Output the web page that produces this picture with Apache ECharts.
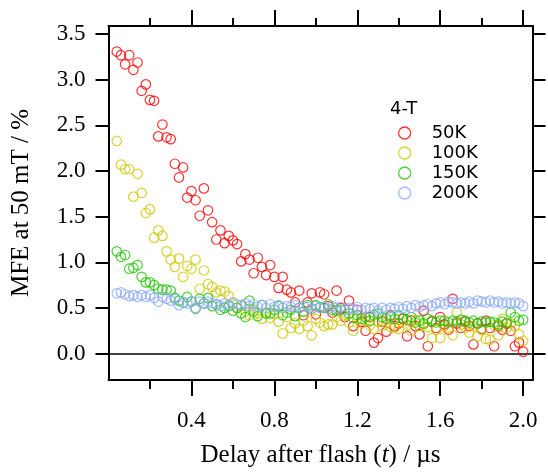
<!DOCTYPE html>
<html>
<head>
<meta charset="utf-8">
<script src="https://cdn.jsdelivr.net/npm/echarts@6/dist/echarts.min.js"></script>
<style>html,body{margin:0;padding:0;background:#fff;}#chart{width:548px;height:473px;}</style>
</head>
<body>
<div id="chart"></div>
<script>
// Delay after flash (µs)
const delay = [
  0.04,0.06,0.08,0.10,0.12,0.14,0.16,0.18,0.20,0.22,
  0.24,0.26,0.28,0.30,0.32,0.34,0.36,0.38,0.40,0.42,
  0.44,0.46,0.48,0.50,0.52,0.54,0.56,0.58,0.60,0.62,
  0.64,0.66,0.68,0.70,0.72,0.74,0.76,0.78,0.80,0.82,
  0.84,0.86,0.88,0.90,0.92,0.94,0.96,0.98,1.00,1.02,
  1.04,1.06,1.08,1.10,1.12,1.14,1.16,1.18,1.20,1.22,
  1.24,1.26,1.28,1.30,1.32,1.34,1.36,1.38,1.40,1.42,
  1.44,1.46,1.48,1.50,1.52,1.54,1.56,1.58,1.60,1.62,
  1.64,1.66,1.68,1.70,1.72,1.74,1.76,1.78,1.80,1.82,
  1.84,1.86,1.88,1.90,1.92,1.94,1.96,1.98,2.00
];
const mfe50K = [
  3.31,3.27,3.17,3.27,3.11,3.19,2.88,2.95,2.78,2.77,
  2.38,2.51,2.37,2.35,2.08,1.93,2.04,1.71,1.78,1.68,
  1.51,1.81,1.57,1.44,1.25,1.35,1.21,1.29,1.24,1.20,
  1.01,1.09,1.03,0.88,1.05,0.95,0.86,0.97,0.84,0.72,
  0.84,0.70,0.67,0.56,0.69,0.42,0.56,0.66,0.43,0.67,
  0.65,0.52,0.45,0.69,0.50,0.40,0.58,0.30,0.48,0.35,
  0.25,0.40,0.12,0.17,0.35,0.24,0.42,0.30,0.33,0.38,
  0.19,0.36,0.30,0.21,0.47,0.08,0.35,0.28,0.40,0.32,
  0.26,0.60,0.33,0.28,0.35,0.30,0.10,0.33,0.27,0.36,
  0.28,0.08,0.30,0.26,0.33,0.25,0.08,0.12,0.02
];
const mfe100K = [
  2.33,2.07,2.02,2.02,1.72,1.97,1.76,1.54,1.58,1.27,
  1.35,1.29,1.12,1.03,0.95,1.04,0.84,0.96,0.93,1.03,
  0.71,0.91,0.76,0.73,0.67,0.69,0.68,0.63,0.55,0.50,
  0.52,0.46,0.42,0.48,0.44,0.38,0.45,0.39,0.43,0.35,
  0.22,0.40,0.28,0.33,0.27,0.36,0.30,0.20,0.38,0.34,
  0.30,0.32,0.32,0.40,0.36,0.42,0.34,0.25,0.38,0.33,
  0.36,0.31,0.27,0.35,0.30,0.33,0.29,0.28,0.27,0.34,
  0.31,0.25,0.37,0.30,0.32,0.29,0.17,0.26,0.17,0.30,
  0.28,0.20,0.45,0.32,0.28,0.23,0.30,0.19,0.26,0.16,
  0.15,0.31,0.20,0.38,0.28,0.33,0.30,0.21,0.14
];
const mfe150K = [
  1.12,1.06,1.08,0.93,0.94,0.97,0.84,0.78,0.78,0.75,
  0.71,0.70,0.70,0.69,0.61,0.58,0.56,0.62,0.57,0.49,
  0.60,0.55,0.61,0.52,0.54,0.48,0.50,0.52,0.47,0.50,
  0.44,0.40,0.58,0.46,0.41,0.53,0.44,0.44,0.48,0.52,
  0.42,0.45,0.48,0.41,0.50,0.46,0.53,0.49,0.53,0.51,
  0.50,0.54,0.48,0.47,0.48,0.48,0.44,0.39,0.42,0.38,
  0.40,0.36,0.42,0.44,0.40,0.38,0.41,0.38,0.42,0.39,
  0.37,0.40,0.34,0.36,0.33,0.38,0.36,0.34,0.36,0.36,
  0.34,0.36,0.35,0.37,0.36,0.34,0.36,0.33,0.35,0.34,
  0.35,0.34,0.32,0.35,0.33,0.45,0.40,0.36,0.37
];
const mfe200K = [
  0.66,0.67,0.65,0.63,0.64,0.62,0.64,0.62,0.64,0.61,
  0.57,0.62,0.60,0.58,0.60,0.53,0.56,0.55,0.57,0.50,
  0.57,0.55,0.57,0.55,0.54,0.52,0.55,0.53,0.56,0.54,
  0.53,0.55,0.52,0.54,0.51,0.53,0.50,0.54,0.51,0.53,
  0.50,0.52,0.51,0.53,0.50,0.52,0.51,0.49,0.52,0.50,
  0.51,0.49,0.52,0.50,0.51,0.48,0.50,0.49,0.51,0.48,
  0.50,0.49,0.50,0.47,0.50,0.48,0.50,0.49,0.51,0.49,
  0.52,0.50,0.53,0.51,0.53,0.54,0.52,0.55,0.56,0.54,
  0.57,0.56,0.55,0.56,0.55,0.57,0.55,0.58,0.57,0.56,
  0.58,0.56,0.57,0.55,0.56,0.55,0.56,0.55,0.52
];
const seriesNames = ['50K', '100K', '150K', '200K'];
const seriesValues = [mfe50K, mfe100K, mfe150K, mfe200K];
const seriesColors = ['#ff0000', '#cfc800', '#1ec800', '#8caaff'];
const xMajorTicks = [0.4, 0.8, 1.2, 1.6, 2.0];
const xMinorTicks = [0.2, 0.6, 1.0, 1.4, 1.8];
const yTicks = [0, 0.5, 1.0, 1.5, 2.0, 2.5, 3.0, 3.5];
const legendTitle = '4-T';

const X_MIN = 0, X_MAX = 2.045, Y_MIN = -0.29, Y_MAX = 3.59;
const serif = 'Liberation Serif';
const black = '#000';

function xAxisDef(pos, ticks, len, showLine, labels) {
  const ax = {
    type: 'value', position: pos, min: X_MIN, max: X_MAX,
    axisLine: { show: showLine, onZero: false, lineStyle: { color: black, width: 2 } },
    axisTick: { show: true, inside: false, length: len, customValues: ticks, lineStyle: { color: black, width: 2 } },
    axisLabel: { show: false },
    splitLine: { show: false }
  };
  if (labels) {
    ax.axisLabel = {
      show: true, customValues: ticks, margin: 29,
      formatter: v => Number(v).toFixed(1),
      fontFamily: serif, fontSize: 23, color: black
    };
    ax.name = '{n|Delay after flash (}{i|t}{n|) / µs}';
    ax.nameLocation = 'middle';
    ax.nameGap = 63;
    ax.nameTextStyle = {
      rich: {
        n: { fontFamily: serif, fontSize: 25, color: black },
        i: { fontFamily: serif, fontSize: 25, color: black, fontStyle: 'italic' }
      }
    };
  }
  return ax;
}

function yAxisDef(pos, labels) {
  const ax = {
    type: 'value', position: pos, min: Y_MIN, max: Y_MAX,
    axisLine: { show: true, onZero: false, lineStyle: { color: black, width: 2 } },
    axisTick: { show: true, inside: false, length: 13, customValues: yTicks, lineStyle: { color: black, width: 2 } },
    axisLabel: { show: false },
    splitLine: { show: false }
  };
  if (labels) {
    ax.axisLabel = {
      show: true, customValues: yTicks, margin: 23,
      formatter: v => Number(v).toFixed(1),
      fontFamily: serif, fontSize: 23, color: black
    };
    ax.name = 'MFE at 50 mT / %';
    ax.nameLocation = 'middle';
    ax.nameGap = 75;
    ax.nameTextStyle = { fontFamily: serif, fontSize: 25, color: black };
  }
  return ax;
}

const series = seriesNames.map((name, i) => {
  const s = {
    name: name,
    type: 'scatter',
    xAxisIndex: 0, yAxisIndex: 0,
    symbol: 'circle',
    symbolSize: 9.5,
    itemStyle: { color: 'rgba(0,0,0,0)', borderColor: seriesColors[i], borderWidth: 1.2 },
    emphasis: { disabled: true },
    data: delay.map((t, k) => [t, seriesValues[i][k]])
  };
  if (i === 0) {
    s.markLine = {
      silent: true, symbol: 'none', label: { show: false },
      lineStyle: { color: black, width: 1.6, type: 'solid' },
      data: [{ yAxis: 0 }],
      z: 1
    };
  }
  return s;
});

const chart = echarts.init(document.getElementById('chart'), null, { renderer: 'canvas' });
chart.setOption({
  animation: false,
  backgroundColor: '#fff',
  grid: { left: 108.5, right: 15.5, top: 26, bottom: 92, containLabel: false },
  xAxis: [
    xAxisDef('bottom', xMajorTicks, 16, true, true),
    xAxisDef('bottom', xMinorTicks, 9, false, false),
    xAxisDef('top', xMajorTicks, 16, true, false),
    xAxisDef('top', xMinorTicks, 8, false, false)
  ],
  yAxis: [
    yAxisDef('left', true),
    yAxisDef('right', false)
  ],
  graphic: [{
    type: 'text', left: 390, top: 100,
    style: { text: legendTitle, fontFamily: 'DejaVu Sans', fontSize: 18, fill: black }
  }],
  legend: {
    orient: 'vertical', left: 393, top: 119,
    itemWidth: 44, itemHeight: 12, itemGap: 2, icon: 'circle',
    textStyle: { fontFamily: 'DejaVu Sans', fontSize: 18, color: black },
    selectedMode: false,
    data: seriesNames.map((n, i) => ({
      name: n,
      itemStyle: { color: 'rgba(0,0,0,0)', borderColor: seriesColors[i], borderWidth: 1.3 }
    }))
  },
  series: series
});
</script>
</body>
</html>
